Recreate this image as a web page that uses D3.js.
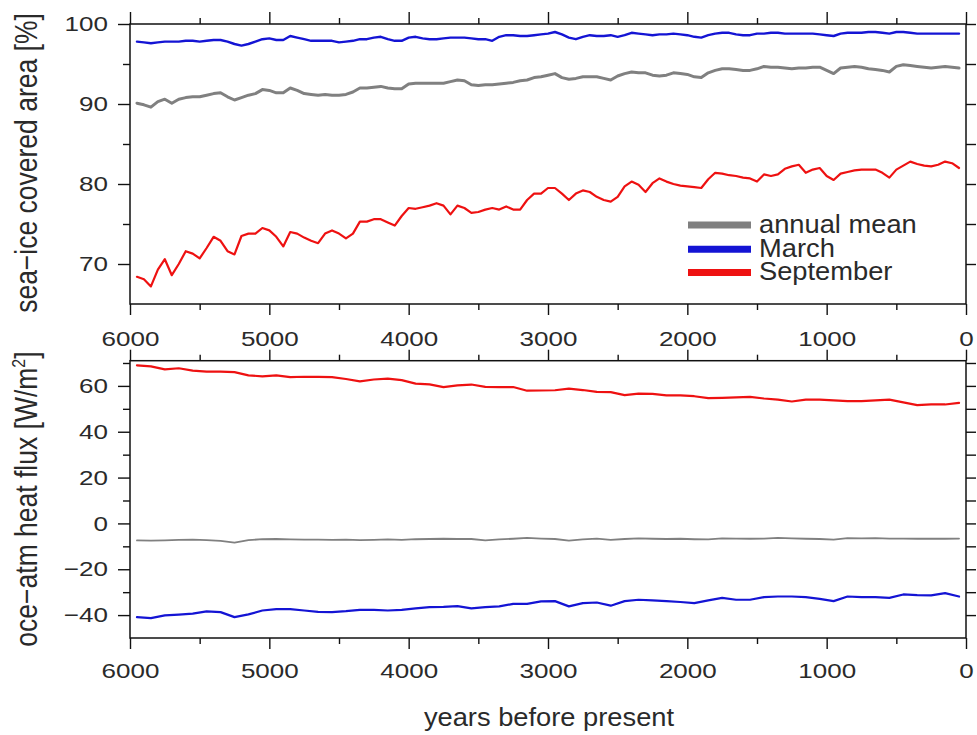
<!DOCTYPE html>
<html>
<head>
<meta charset="utf-8">
<script src="https://cdn.jsdelivr.net/npm/d3@7"></script>
<style>
  body { margin: 0; background: #fff; }
  svg { display: block; font-family: "Liberation Sans", Arial, sans-serif; }
</style>
</head>
<body>
<div id="chart"></div>
<script>
// years before present, 50-yr steps (upper panel) and 100-yr steps (lower panel)
const yearsTop = [
  5950,5900,5850,5800,5750,5700,5650,5600,5550,5500,
  5450,5400,5350,5300,5250,5200,5150,5100,5050,5000,
  4950,4900,4850,4800,4750,4700,4650,4600,4550,4500,
  4450,4400,4350,4300,4250,4200,4150,4100,4050,4000,
  3950,3900,3850,3800,3750,3700,3650,3600,3550,3500,
  3450,3400,3350,3300,3250,3200,3150,3100,3050,3000,
  2950,2900,2850,2800,2750,2700,2650,2600,2550,2500,
  2450,2400,2350,2300,2250,2200,2150,2100,2050,2000,
  1950,1900,1850,1800,1750,1700,1650,1600,1550,1500,
  1450,1400,1350,1300,1250,1200,1150,1100,1050,1000,
  950,900,850,800,750,700,650,600,550,500,
  450,400,350,300,250,200,150,100,50
];
// sea-ice covered area [%]
const iceMean = [
  90.1,89.9,89.6,90.3,90.6,90.1,90.6,90.8,90.9,90.9,
  91.1,91.3,91.4,90.9,90.5,90.8,91.1,91.3,91.8,91.7,
  91.4,91.4,92.0,91.7,91.3,91.2,91.1,91.2,91.1,91.1,
  91.2,91.5,92.0,92.0,92.1,92.2,92.0,91.9,91.9,92.5,
  92.6,92.6,92.6,92.6,92.6,92.8,93.0,92.9,92.4,92.3,
  92.4,92.4,92.5,92.6,92.7,92.9,93.0,93.3,93.4,93.6,
  93.8,93.3,93.1,93.2,93.4,93.4,93.4,93.2,93.0,93.5,
  93.8,94.0,93.9,93.9,93.6,93.5,93.6,93.9,93.8,93.7,
  93.4,93.3,93.9,94.2,94.4,94.4,94.3,94.2,94.2,94.4,
  94.7,94.6,94.6,94.5,94.4,94.5,94.5,94.6,94.6,94.2,
  93.8,94.5,94.6,94.7,94.6,94.4,94.3,94.2,94.0,94.7,
  94.9,94.8,94.7,94.6,94.5,94.6,94.7,94.6,94.5
];
const iceMarch = [
  97.8,97.7,97.6,97.7,97.8,97.8,97.8,97.9,97.9,97.8,
  97.9,98.0,98.0,97.8,97.5,97.3,97.5,97.8,98.1,98.2,
  98.0,98.0,98.5,98.3,98.1,97.9,97.9,97.9,97.9,97.7,
  97.8,97.9,98.1,98.1,98.3,98.4,98.1,97.9,97.9,98.3,
  98.4,98.2,98.1,98.1,98.2,98.3,98.3,98.3,98.2,98.1,
  98.1,97.9,98.4,98.6,98.6,98.5,98.5,98.6,98.7,98.8,
  99.0,98.7,98.3,98.1,98.4,98.6,98.5,98.5,98.6,98.4,
  98.6,98.9,98.8,98.7,98.6,98.7,98.7,98.8,98.7,98.6,
  98.4,98.3,98.6,98.8,98.9,98.9,98.7,98.6,98.6,98.8,
  98.8,98.9,98.9,98.8,98.8,98.8,98.8,98.8,98.7,98.6,
  98.5,98.8,98.9,98.9,98.9,99.0,99.0,98.9,98.8,99.0,
  99.0,98.9,98.8,98.8,98.8,98.8,98.8,98.8,98.8
];
const iceSept = [
  68.4,68.1,67.2,69.3,70.6,68.6,70.0,71.6,71.3,70.7,
  72.0,73.4,72.9,71.6,71.2,73.5,73.8,73.8,74.5,74.2,
  73.4,72.2,74.0,73.8,73.3,72.9,72.6,73.8,74.2,73.8,
  73.2,73.8,75.3,75.3,75.6,75.6,75.2,74.8,76.0,77.0,
  76.9,77.1,77.3,77.6,77.3,76.2,77.3,77.0,76.4,76.5,
  76.8,77.0,76.8,77.2,76.8,76.8,78.0,78.8,78.8,79.5,
  79.5,78.8,78.0,78.8,79.2,79.0,78.4,78.0,77.8,78.4,
  79.7,80.3,79.9,79.0,80.1,80.7,80.3,80.0,79.8,79.7,
  79.6,79.5,80.6,81.4,81.3,81.1,81.0,80.8,80.7,80.3,
  81.2,81.0,81.2,81.9,82.2,82.4,81.4,81.8,82.0,81.0,
  80.5,81.3,81.5,81.7,81.8,81.8,81.8,81.4,80.8,81.8,
  82.3,82.8,82.5,82.3,82.2,82.4,82.8,82.6,82.0
];

const yearsBottom = [
  5950,5850,5750,5650,5550,5450,5350,5250,5150,5050,
  4950,4850,4750,4650,4550,4450,4350,4250,4150,4050,
  3950,3850,3750,3650,3550,3450,3350,3250,3150,3050,
  2950,2850,2750,2650,2550,2450,2350,2250,2150,2050,
  1950,1850,1750,1650,1550,1450,1350,1250,1150,1050,
  950,850,750,650,550,450,350,250,150,50
];
// ocean-atmosphere heat flux [W/m2]
const fluxMean = [
  -7.4,-7.5,-7.4,-7.2,-7.1,-7.3,-7.6,-8.4,-7.3,-6.9,
  -6.8,-7.0,-7.1,-7.1,-7.2,-7.1,-7.3,-7.2,-7.0,-7.2,
  -6.9,-6.8,-6.7,-6.8,-6.8,-7.4,-7.0,-6.7,-6.3,-6.6,
  -6.8,-7.5,-7.0,-6.6,-7.2,-6.8,-6.5,-6.7,-6.8,-6.7,
  -6.9,-7.0,-6.5,-6.6,-6.7,-6.6,-6.3,-6.5,-6.7,-6.8,
  -7.1,-6.4,-6.5,-6.4,-6.6,-6.6,-6.7,-6.6,-6.7,-6.6
];
const fluxMarch = [
  -40.9,-41.3,-40.1,-39.8,-39.4,-38.4,-38.7,-40.9,-39.7,-38.0,
  -37.4,-37.4,-38.0,-38.6,-38.7,-38.3,-37.7,-37.7,-38.0,-37.7,
  -37.1,-36.5,-36.4,-36.1,-37.1,-36.5,-36.2,-35.1,-35.1,-34.0,
  -33.9,-36.2,-34.8,-34.5,-35.9,-33.9,-33.3,-33.6,-33.9,-34.3,
  -34.8,-33.6,-32.5,-33.3,-33.3,-32.2,-31.9,-31.9,-32.2,-32.9,
  -33.9,-31.9,-32.2,-32.2,-32.5,-31.0,-31.3,-31.4,-30.4,-31.9
];
const fluxSept = [
  69.0,68.5,67.2,67.7,66.7,66.2,66.2,66.0,64.6,64.2,
  64.6,63.8,64.0,63.9,63.8,63.0,62.0,62.8,63.2,62.5,
  61.0,60.7,59.5,60.2,60.6,59.6,59.5,59.5,57.9,58.0,
  58.1,58.8,58.2,57.4,57.3,56.0,56.6,56.5,55.9,55.9,
  55.5,54.7,54.8,55.0,55.2,54.5,54.0,53.2,54.0,54.0,
  53.7,53.4,53.4,53.7,54.0,52.8,51.6,51.9,51.9,52.6
];

// ticks
const xMajor = [6000, 5000, 4000, 3000, 2000, 1000, 0];
const xMinor = [5500, 4500, 3500, 2500, 1500, 500];
const iceMajor = [70, 80, 90, 100];
const iceMinor = [75, 85, 95];
const fluxMajor = [-40, -20, 0, 20, 40, 60];
const fluxMinor = [-30, -10, 10, 30, 50, 70];

const legendNames = ['annual mean', 'March', 'September'];
const colors = {mean: '#808080', march: '#1414d4', sept: '#ee1111'};

const W = 977, H = 735;
const left = 130, right = 966;
const svg = d3.select('#chart').append('svg').attr('width', W).attr('height', H);

const x = d3.scaleLinear().domain([6000, 0]).range([left, right]);
const yIce = d3.scaleLinear().domain([65, 100]).range([304, 24]);
const yFlux = d3.scaleLinear().domain([-50, 71]).range([638, 360.7]);

const tickColor = '#2a2a2a';

// stretch tick labels sideways around their anchor
function tickText(g, sx){
  g.selectAll('text')
    .attr('font-size', 21)
    .attr('fill', tickColor)
    .attr('transform', function(){
      const tx = +d3.select(this).attr('x') || 0;
      return `translate(${tx},0) scale(${sx},1) translate(${-tx},0)`;
    });
}
function clean(g){
  g.select('.domain').remove();
  g.selectAll('.tick line').attr('stroke', '#111').attr('stroke-width', 1.4);
}

function panel(y, major, minor, bottomPad, topTick){
  const g = svg.append('g');
  // left
  g.append('g').attr('transform', `translate(${left},0)`)
    .call(d3.axisLeft(y).tickValues(major).tickSize(12).tickPadding(10))
    .call(clean).call(a => tickText(a, 1.24));
  g.append('g').attr('transform', `translate(${left},0)`)
    .call(d3.axisLeft(y).tickValues(minor).tickSize(7).tickFormat(''))
    .call(clean);
  // right
  g.append('g').attr('transform', `translate(${right},0)`)
    .call(d3.axisRight(y).tickValues(major.concat(minor)).tickSize(10).tickFormat(''))
    .call(clean);
  // top
  const y0 = y.range()[1], y1 = y.range()[0];
  g.append('g').attr('transform', `translate(0,${y0})`)
    .call(d3.axisTop(x).tickValues(xMajor).tickSize(topTick).tickFormat(''))
    .call(clean);
  g.append('g').attr('transform', `translate(0,${y0})`)
    .call(d3.axisTop(x).tickValues(xMinor).tickSize(6).tickFormat(''))
    .call(clean);
  // bottom with labels
  g.append('g').attr('transform', `translate(0,${y1})`)
    .call(d3.axisBottom(x).tickValues(xMajor).tickSize(11).tickPadding(bottomPad).tickFormat(d3.format('d')))
    .call(clean).call(a => tickText(a, 1.24));
  g.append('g').attr('transform', `translate(0,${y1})`)
    .call(d3.axisBottom(x).tickValues(xMinor).tickSize(6).tickFormat(''))
    .call(clean);
  // frame
  g.append('rect')
    .attr('x', left).attr('y', y0)
    .attr('width', right - left).attr('height', y1 - y0)
    .attr('fill', 'none').attr('stroke', '#111').attr('stroke-width', 1.5);
  return g;
}

panel(yIce, iceMajor, iceMinor, 16, 12);
panel(yFlux, fluxMajor, fluxMinor, 14, 11);

function drawLine(years, vals, y, color, w){
  const line = d3.line().x((d, i) => x(years[i])).y(d => y(d));
  svg.append('path')
    .datum(vals)
    .attr('d', line)
    .attr('fill', 'none')
    .attr('stroke', color)
    .attr('stroke-width', w)
    .attr('stroke-linejoin', 'round')
    .attr('stroke-linecap', 'round');
}

drawLine(yearsTop, iceMarch, yIce, colors.march, 2.4);
drawLine(yearsTop, iceMean, yIce, colors.mean, 3);
drawLine(yearsTop, iceSept, yIce, colors.sept, 2.2);

drawLine(yearsBottom, fluxSept, yFlux, colors.sept, 2.2);
drawLine(yearsBottom, fluxMean, yFlux, colors.mean, 1.8);
drawLine(yearsBottom, fluxMarch, yFlux, colors.march, 2.2);

// legend
const legColors = [colors.mean, colors.march, colors.sept];
const legY = [225, 249.3, 272.5];
const leg = svg.append('g');
legendNames.forEach((name, i) => {
  leg.append('line')
    .attr('x1', 688).attr('x2', 751)
    .attr('y1', legY[i]).attr('y2', legY[i])
    .attr('stroke', legColors[i]).attr('stroke-width', 7);
  leg.append('text')
    .attr('transform', `translate(759,${legY[i] + 7.5}) scale(1.05,1)`)
    .attr('font-size', 26)
    .attr('fill', tickColor)
    .text(name);
});

// axis titles
svg.append('text')
  .attr('transform', 'translate(36.5,163) scale(1.15,1) rotate(-90)')
  .attr('text-anchor', 'middle')
  .attr('font-size', 26.5)
  .attr('fill', tickColor)
  .text('sea\u2212ice covered area [%]');

const t2 = svg.append('text')
  .attr('transform', 'translate(36.5,499) scale(1.15,1) rotate(-90)')
  .attr('text-anchor', 'middle')
  .attr('font-size', 26.5)
  .attr('fill', tickColor);
t2.append('tspan').text('oce\u2212atm heat flux [W/m');
t2.append('tspan').attr('font-size', 16).attr('dy', -10).text('2');
t2.append('tspan').attr('dy', 10).text(']');

svg.append('text')
  .attr('transform', 'translate(549,726) scale(1.05,1)')
  .attr('text-anchor', 'middle')
  .attr('font-size', 26)
  .attr('fill', tickColor)
  .text('years before present');
</script>
</body>
</html>
